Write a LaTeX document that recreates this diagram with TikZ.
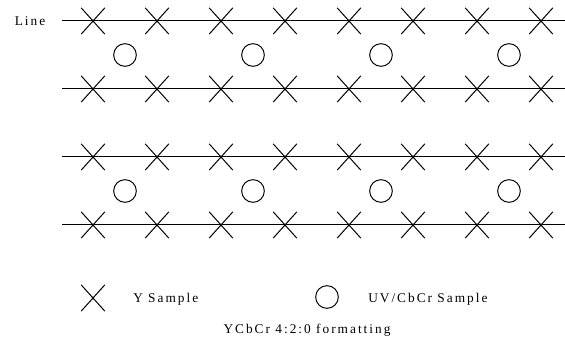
\documentclass[tikz,border=0pt]{standalone}
\usepackage{fontspec}
\setmainfont{Liberation Serif}[LetterSpace=15]
\usetikzlibrary{shapes.misc}
\tikzset{
  ysample/.style={draw,cross out,minimum width=17pt,minimum height=19pt,inner sep=0pt,line width=0.75pt},
  uvsample/.style={draw,circle,minimum size=17pt,inner sep=0pt,line width=0.75pt},
  sampline/.style={line width=0.75pt},
  smplabel/.style={font=\fontsize{10}{12}\selectfont,inner sep=0pt},
}
\begin{document}
\begin{tikzpicture}[x=0.75pt,y=-0.75pt]
\useasboundingbox (0,0) rectangle (565,349);
 % sample lines
\foreach \r/\y in {1/21,2/89,3/157,4/225}{
  \coordinate (l\r w) at (62,\y);
  \coordinate (l\r e) at (565,\y);
  \draw[sampline] (l\r w) -- (l\r e);
  \foreach \c in {0,...,7}
    \node[ysample] (y\r\c) at (93+64*\c,\y) {};
}
 % chroma samples between line pairs
\foreach \b/\y in {1/55,2/191}
  \foreach \c in {0,...,3}
    \node[uvsample] (uv\b\c) at (125+128*\c,\y) {};
\node[smplabel] (line) at (30,21) {Line};
 % legend
\node[ysample] (ykey) at (93,298) {};
\node[smplabel,anchor=west] (ytxt) at (133,299) {Y Sample};
\node[uvsample] (uvkey) at (327,297) {};
\node[smplabel,anchor=west] (uvtxt) at (368,299) {UV/CbCr Sample};
\node[smplabel] (title) at (307,330) {YCbCr 4:2:0 formatting};
\end{tikzpicture}
\end{document}
